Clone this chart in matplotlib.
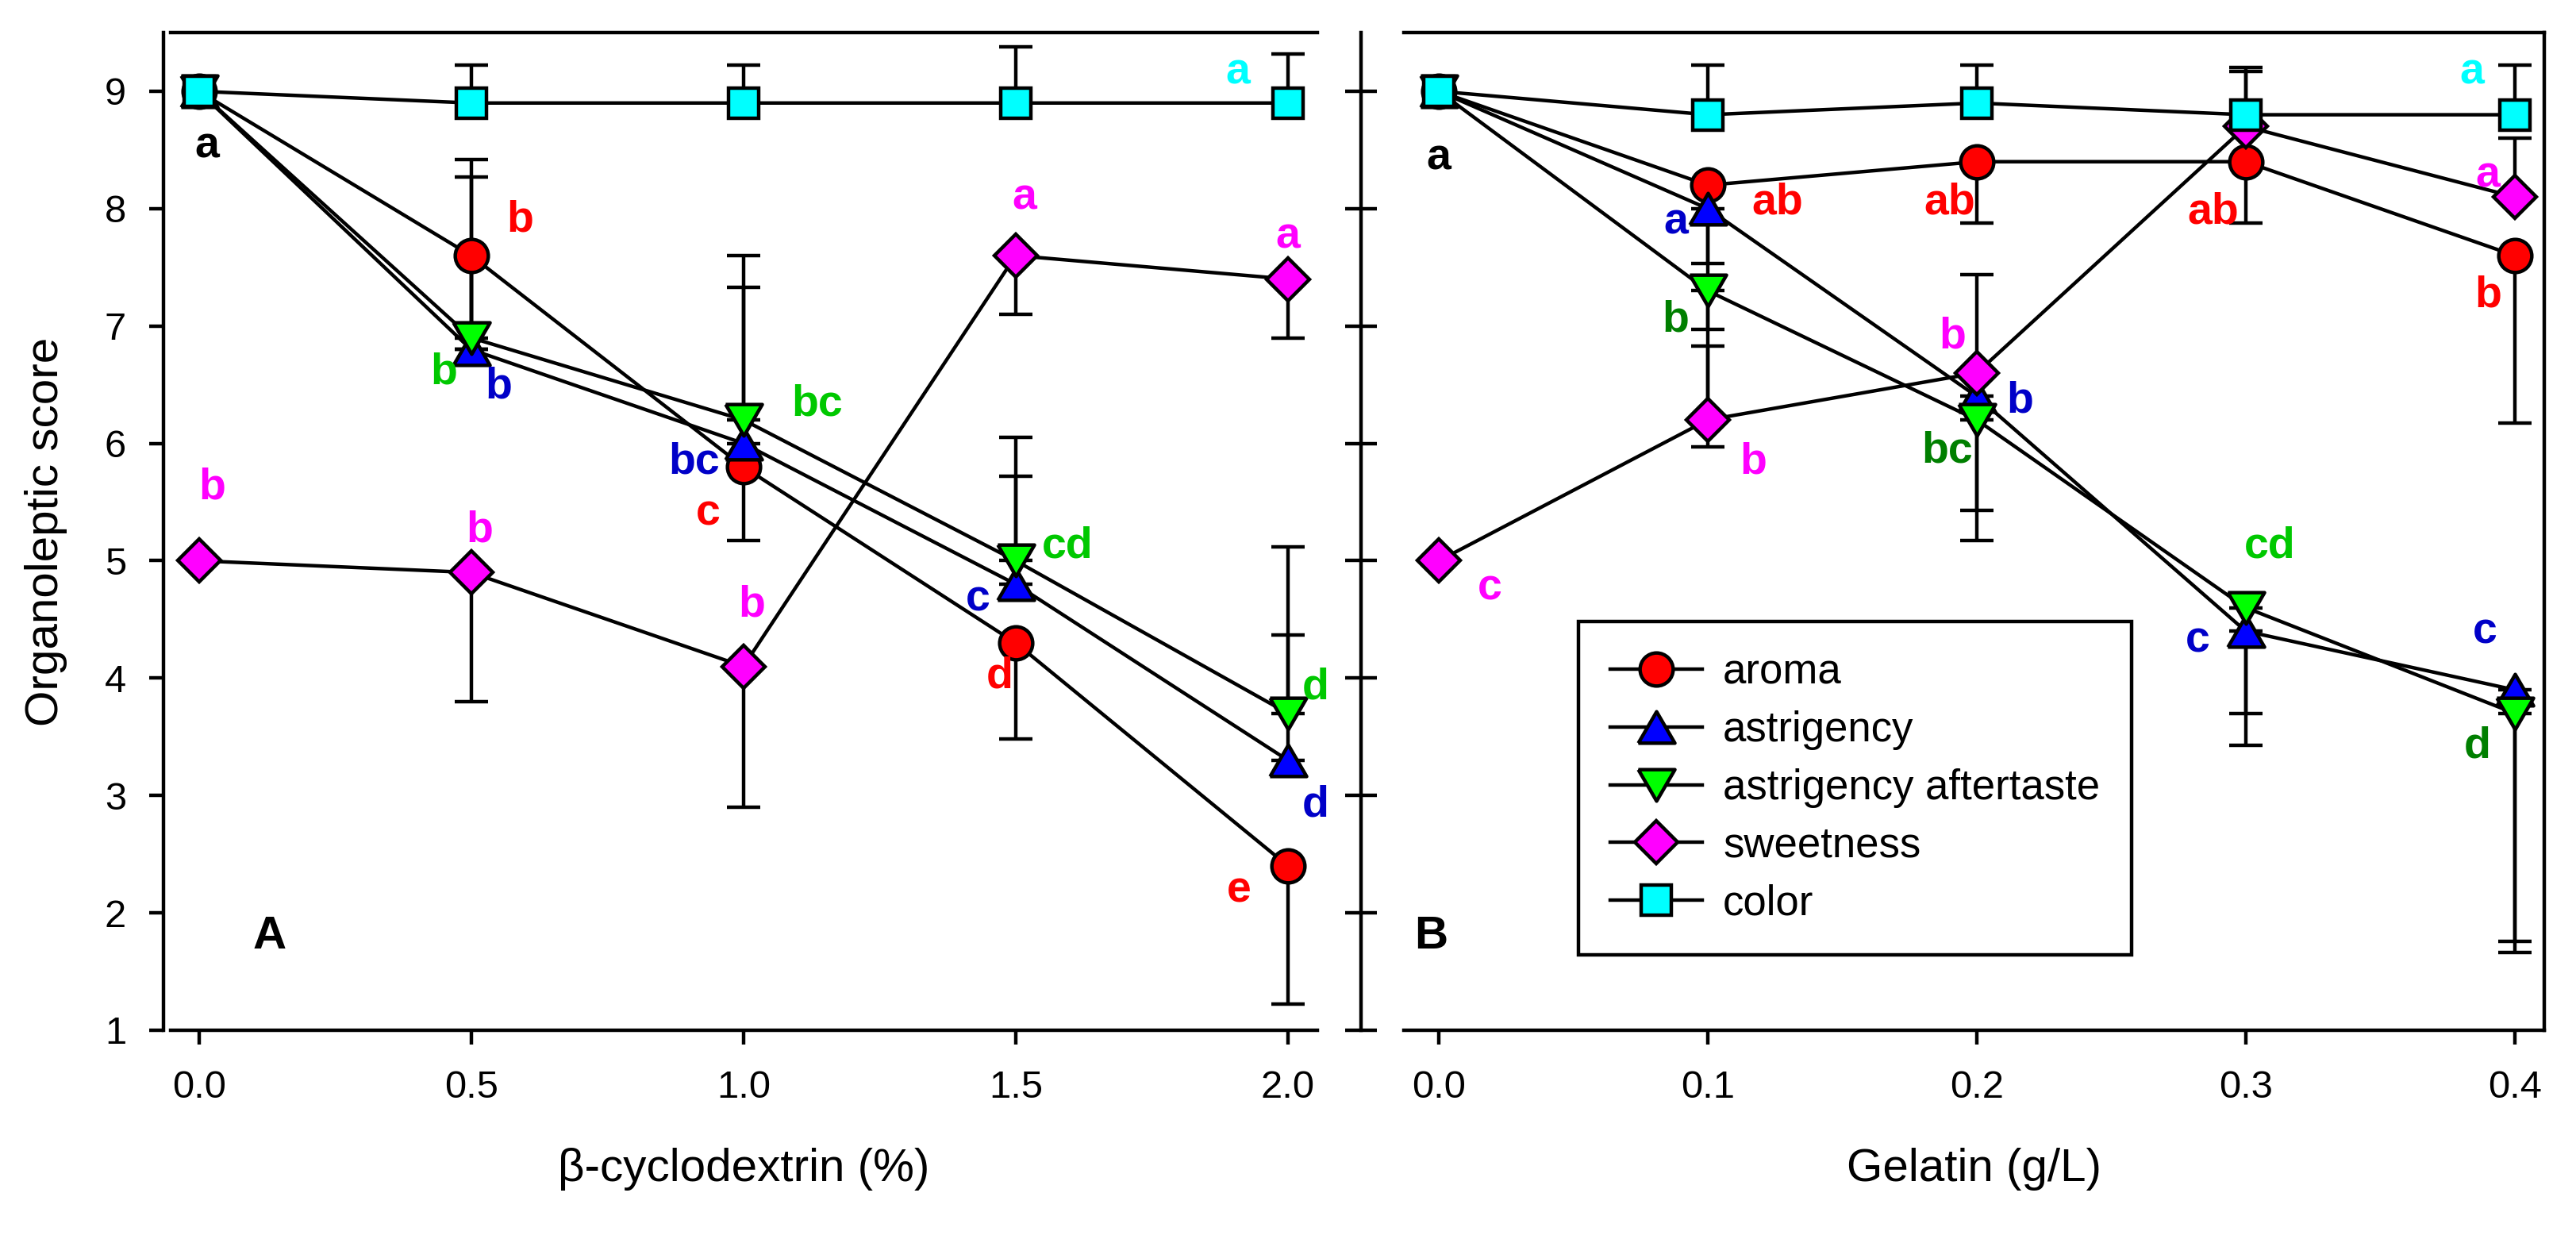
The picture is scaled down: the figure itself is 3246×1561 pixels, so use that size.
"""
Organoleptic scores vs beta-cyclodextrin (A) and gelatin (B)
"""

import numpy as np
import matplotlib.pyplot as plt

plt.rcParams['font.family'] = ['Liberation Sans', 'DejaVu Sans']

# ---- data ----
conc_a = [0.0, 0.5, 1.0, 1.5, 2.0]   # beta-cyclodextrin (%)
conc_b = [0.0, 0.1, 0.2, 0.3, 0.4]   # gelatin (g/L)

series = ["aroma", "astrigency", "astrigency aftertaste", "sweetness", "color"]

# panel A means, lower / upper error
aroma_a = [9.0, 7.6, 5.8, 4.3, 2.4]
aroma_a_lo = [0, 0.8, 0.63, 0.82, 1.18]
aroma_a_hi = [0, 0, 0, 0, 0]
astr_a = [9.0, 6.8, 6.0, 4.8, 3.3]
astr_a_lo = [0, 0, 0, 0, 0]
astr_a_hi = [0, 1.47, 1.33, 0.92, 1.07]
after_a = [9.0, 6.9, 6.2, 5.0, 3.7]
after_a_lo = [0, 0, 0, 0, 0]
after_a_hi = [0, 1.52, 1.4, 1.05, 1.42]
sweet_a = [5.0, 4.9, 4.1, 7.6, 7.4]
sweet_a_lo = [0, 1.1, 1.2, 0.5, 0.5]
sweet_a_hi = [0, 0, 0, 0, 0]
color_a = [9.0, 8.9, 8.9, 8.9, 8.9]
color_a_lo = [0, 0, 0, 0, 0]
color_a_hi = [0, 0.32, 0.32, 0.48, 0.42]

# panel B means, lower / upper error
aroma_b = [9.0, 8.2, 8.4, 8.4, 7.6]
aroma_b_lo = [0, 0.67, 0.52, 0.52, 1.43]
aroma_b_hi = [0, 0, 0, 0, 0]
astr_b = [9.0, 8.0, 6.4, 4.4, 3.9]
astr_b_lo = [0, 1.03, 0.97, 0.97, 2.14]
astr_b_hi = [0, 0, 0, 0, 0]
after_b = [9.0, 7.3, 6.2, 4.6, 3.7]
after_b_lo = [0, 1.33, 1.03, 0.9, 2.04]
after_b_hi = [0, 0, 0, 0, 0]
sweet_b = [5.0, 6.2, 6.6, 8.7, 8.1]
sweet_b_lo = [0, 0, 0, 0, 0]
sweet_b_hi = [0, 0.63, 0.84, 0.47, 0.5]
color_b = [9.0, 8.8, 8.9, 8.8, 8.8]
color_b_lo = [0, 0, 0, 0, 0]
color_b_hi = [0, 0.42, 0.32, 0.4, 0.42]

# significance letters ('' = none)
aroma_a_sig = ['', 'b', 'c', 'd', 'e']
astr_a_sig = ['', 'b', 'bc', 'c', 'd']
after_a_sig = ['', 'b', 'bc', 'cd', 'd']
sweet_a_sig = ['b', 'b', 'b', 'a', 'a']
color_a_sig = ['', '', '', '', 'a']

aroma_b_sig = ['', 'ab', 'ab', 'ab', 'b']
astr_b_sig = ['', 'a', 'b', 'c', 'c']
after_b_sig = ['', 'b', 'bc', 'cd', 'd']
sweet_b_sig = ['c', 'b', 'b', '', 'a']
color_b_sig = ['', '', '', '', 'a']

# ---- placement of letters (offsets from the point, data units) ----
aroma_a_off = [(0, 0), (0.09, 0.30), (-0.065, -0.40), (-0.03, -0.29), (-0.09, -0.21)]
astr_a_off = [(0, 0), (0.05, -0.32), (-0.09, -0.16), (-0.07, -0.13), (0.05, -0.38)]
after_a_off = [(0, 0), (-0.05, -0.30), (0.135, 0.13), (0.095, 0.12), (0.05, 0.22)]
sweet_a_off = [(0.025, 0.62), (0.015, 0.36), (0.016, 0.52), (0.016, 0.49), (0.0, 0.36)]
color_a_off = [(0, 0), (0, 0), (0, 0), (0, 0), (-0.092, 0.26)]

aroma_b_off = [(0, 0), (0.026, -0.15), (-0.01, -0.35), (-0.012, -0.43), (-0.01, -0.34)]
astr_b_off = [(0, 0), (-0.012, -0.12), (0.016, -0.04), (-0.018, -0.08), (-0.011, 0.49)]
after_b_off = [(0, 0), (-0.012, -0.25), (-0.011, -0.27), (0.009, 0.52), (-0.014, -0.28)]
sweet_b_off = [(0.019, -0.24), (0.017, -0.36), (-0.009, 0.31), (0, 0), (-0.01, 0.18)]
color_b_off = [(0, 0), (0, 0), (0, 0), (0, 0), (-0.016, 0.36)]

# styles
tri_up = [(-1, -0.86), (1, -0.86), (0, 0.86), (-1, -0.86)]
tri_dn = [(-1, 0.86), (1, 0.86), (0, -0.86), (-1, 0.86)]
markers = ['o', tri_up, tri_dn, 'D', 's']
msizes = [15, 16.6, 16.6, 14, 13.7]
fills = ['#ff0000', '#0000ff', '#00ff00', '#ff00ff', '#00ffff']
txt_a = ['#ff0000', '#0000c8', '#00c800', '#ff00ff', '#00ffff']
txt_b = ['#ff0000', '#0000c8', '#007f00', '#ff00ff', '#00ffff']
after_b_txt = ['#007f00', '#007f00', '#007f00', '#00c800', '#007f00']

LW = 1.6

fig = plt.figure(figsize=(16.23, 7.805), dpi=200)
ax_a = fig.add_axes([0.0662, 0.1685, 0.4452, 0.8052])
ax_b = fig.add_axes([0.545, 0.1685, 0.4427, 0.8052])

panel_a = [
    (aroma_a, aroma_a_lo, aroma_a_hi, aroma_a_sig, aroma_a_off),
    (astr_a, astr_a_lo, astr_a_hi, astr_a_sig, astr_a_off),
    (after_a, after_a_lo, after_a_hi, after_a_sig, after_a_off),
    (sweet_a, sweet_a_lo, sweet_a_hi, sweet_a_sig, sweet_a_off),
    (color_a, color_a_lo, color_a_hi, color_a_sig, color_a_off),
]
panel_b = [
    (aroma_b, aroma_b_lo, aroma_b_hi, aroma_b_sig, aroma_b_off),
    (astr_b, astr_b_lo, astr_b_hi, astr_b_sig, astr_b_off),
    (after_b, after_b_lo, after_b_hi, after_b_sig, after_b_off),
    (sweet_b, sweet_b_lo, sweet_b_hi, sweet_b_sig, sweet_b_off),
    (color_b, color_b_lo, color_b_hi, color_b_sig, color_b_off),
]

for ax, xs, panel, tcols in [(ax_a, conc_a, panel_a, txt_a), (ax_b, conc_b, panel_b, txt_b)]:
    for i, (y, lo, hi, sig, off) in enumerate(panel):
        ax.errorbar(xs, y, yerr=[lo, hi], fmt='none', ecolor='black',
                    elinewidth=LW, capsize=7.4, capthick=LW, zorder=2)
        ax.plot(xs, y, color='black', lw=LW, marker=markers[i], ms=msizes[i],
                mfc=fills[i], mec='black', mew=LW, label=series[i], zorder=3 + i)
        for j, s in enumerate(sig):
            if not s:
                continue
            c = tcols[i]
            if ax is ax_b and i == 2:
                c = after_b_txt[j]
            ax.text(xs[j] + off[j][0], y[j] + off[j][1], s, color=c, fontsize=20,
                    fontweight='bold', ha='center', va='center', zorder=10)

# shared 'a' at zero concentration
ax_a.text(0.015, 8.53, 'a', fontsize=20, fontweight='bold', ha='center', va='center')
ax_b.text(0.0, 8.43, 'a', fontsize=20, fontweight='bold', ha='center', va='center')
ax_a.text(0.13, 1.8, 'A', fontsize=21, fontweight='bold', ha='center', va='center')
ax_b.text(-0.003, 1.8, 'B', fontsize=21, fontweight='bold', ha='center', va='center')

# formatting
for ax in (ax_a, ax_b):
    ax.set_ylim(1, 9.5)
    ax.set_yticks(range(1, 10))
    for sp in ax.spines.values():
        sp.set_linewidth(LW)
    ax.tick_params(axis='x', direction='out', length=6.5, width=LW, pad=11.5, labelsize=17.6)

ax_a.set_xlim(-0.052, 2.054)
ax_a.set_xticks(conc_a)
ax_a.set_xticklabels([f"{v:.1f}" for v in conc_a])
ax_a.spines['right'].set_visible(False)
ax_a.spines['left'].set_position(('outward', 3.2))
ax_a.tick_params(axis='y', direction='out', length=6.5, width=LW, pad=10.4, labelsize=17.6)
ax_a.set_xlabel("β-cyclodextrin (%)", fontsize=21, labelpad=19)
ax_a.set_ylabel("Organoleptic score", fontsize=21, labelpad=17)

ax_b.set_xlim(-0.013, 0.411)
ax_b.set_xticks(conc_b)
ax_b.set_xticklabels([f"{v:.1f}" for v in conc_b])
ax_b.spines['left'].set_position(('outward', 19.4))
ax_b.tick_params(axis='y', direction='inout', length=14.4, width=LW, labelleft=False)
ax_b.set_xlabel("Gelatin (g/L)", fontsize=21, labelpad=19)

leg = ax_b.legend(loc='upper left', bbox_to_anchor=(1989 / 3246, 1 - 783 / 1561),
                  bbox_transform=fig.transFigure, fontsize=19, numpoints=1,
                  handlelength=2.2, handletextpad=0.5, labelspacing=0.43,
                  borderpad=0.75, borderaxespad=0, fancybox=False, framealpha=1,
                  edgecolor='black')
leg.get_frame().set_linewidth(LW)

plt.savefig("out.png", dpi=200)
